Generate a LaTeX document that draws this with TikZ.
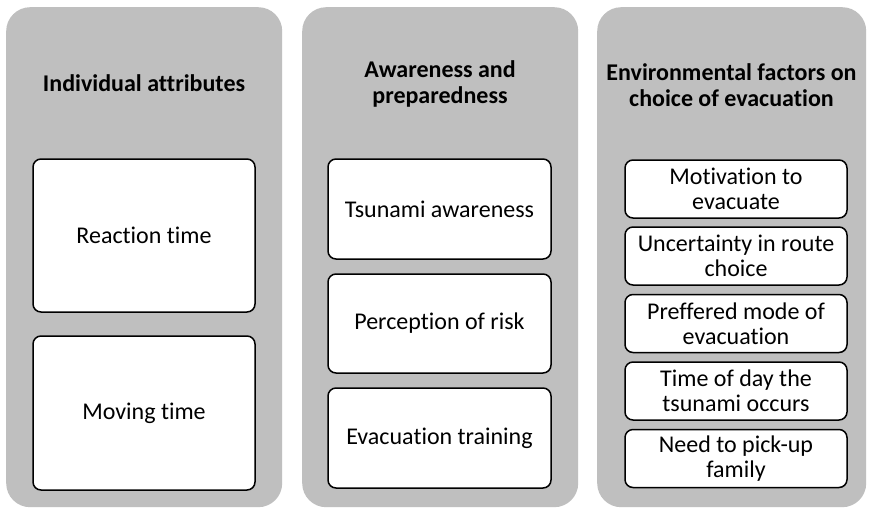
\documentclass[tikz,border=0pt]{standalone}
\usepackage{fontspec}
\setmainfont{Carlito}[Ligatures={NoCommon}]
\usepackage{tikz}
\usetikzlibrary{shapes,backgrounds,positioning}
\definecolor{panelgray}{RGB}{191,191,191}
\tikzset{
  pnl_bg/.style = {rectangle, rounded corners=24pt, fill=panelgray,
    draw=none, anchor=north west, inner sep=0pt},% grey column
  pnl_hd/.style = {align=center, inner sep=0pt, text centered,
    font=\fontsize{24}{26}\selectfont\bfseries},% column title
  box_w/.style = {rectangle, rounded corners=8pt, draw=black, fill=white,
    line width=1.5pt, align=center, inner sep=0pt,
    font=\fontsize{24}{25}\selectfont},% white item box
  box_s/.style = {box_w, minimum width=222pt, minimum height=58pt}% small item box
}

\begin{document}
\begin{tikzpicture}[x=1pt,y=-1pt]
  \useasboundingbox[fill=white] (0,0) rectangle (869,509);
  % columns
  \node [pnl_bg, minimum width=276pt, minimum height=500pt] (P1) at (6,7) {};
  \node [pnl_bg, minimum width=276pt, minimum height=500pt] (P2) at (302,7) {};
  \node [pnl_bg, minimum width=269pt, minimum height=500pt] (P3) at (597,7) {};
  % titles
  \node [pnl_hd] (H1) at (144,83) {Individual attributes};
  \node [pnl_hd] (H2) at (440,84) {Awareness and\\preparedness};
  \node [pnl_hd] (H3) at (731.5,85) {Environmental factors on\\choice of evacuation};
  % individual attributes
  \node [box_w, minimum width=222pt, minimum height=153pt] (R) at (144,235.5) {Reaction time};
  \node [box_w, minimum width=222pt, minimum height=154pt] (M) at (144,413) {Moving time};
  % awareness
  \node [box_w, minimum width=223pt, minimum height=100pt] (T) at (439.5,209) {Tsunami awareness};
  \node [box_w, minimum width=223pt, minimum height=99pt] (K) at (439.5,323.5) {Perception of risk};
  \node [box_w, minimum width=223pt, minimum height=100pt] (E) at (439.5,438) {Evacuation training};
  % environmental factors
  \node [box_s] (F1) at (736,189) {Motivation to\\evacuate};
  \node [box_s] (F2) at (736,256) {Uncertainty in route\\choice};
  \node [box_s] (F3) at (736,323.5) {Preffered mode of\\evacuation};
  \node [box_s] (F4) at (736,391) {Time of day the\\tsunami occurs};
  \node [box_s] (F5) at (736,458.5) {Need to pick-up\\family};
\end{tikzpicture}
\end{document}
